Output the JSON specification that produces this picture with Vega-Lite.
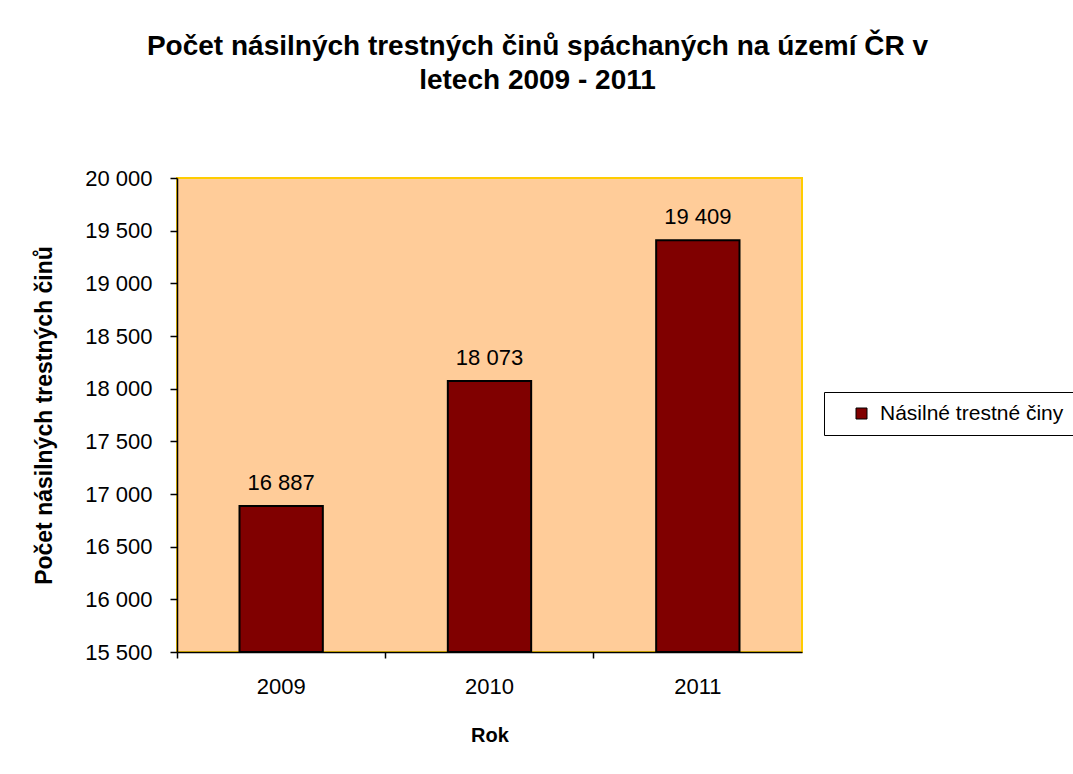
{
  "$schema": "https://vega.github.io/schema/vega-lite/v6.json",
  "autosize": "none",
  "width": 625,
  "height": 474,
  "padding": {"left": 177, "top": 178, "right": 271, "bottom": 122},
  "background": "white",
  "config": {
    "locale": {"number": {"decimal": ",", "thousands": " ", "grouping": [3], "currency": ["", " Kč"]}},
    "view": {"fill": "#FFCC99", "stroke": "#FFCC00", "strokeWidth": 2},
    "font": "Liberation Sans"
  },
  "title": {
    "text": ["Počet násilných trestných činů spáchaných na území ČR v", "letech 2009 - 2011"],
    "font": "Liberation Sans",
    "fontSize": 28,
    "fontWeight": "bold",
    "color": "black",
    "anchor": "middle",
    "frame": "group",
    "dx": 48,
    "offset": 72,
    "lineHeight": 34
  },
  "data": {
    "values": [
      {"rok": "2009", "pocet": 16887, "serie": "Násilné trestné činy"},
      {"rok": "2010", "pocet": 18073, "serie": "Násilné trestné činy"},
      {"rok": "2011", "pocet": 19409, "serie": "Násilné trestné činy"}
    ]
  },
  "encoding": {
    "x": {
      "field": "rok",
      "type": "ordinal",
      "scale": {"paddingInner": 0, "paddingOuter": 0},
      "axis": {
        "title": "Rok",
        "titleFont": "Liberation Sans",
        "titleFontSize": 20,
        "titleFontWeight": "bold",
        "titleColor": "black",
        "titlePadding": 28,
        "labelAngle": 0,
        "labelFontSize": 22,
        "labelColor": "black",
        "labelPadding": 18,
        "bandPosition": 0,
        "tickColor": "black",
        "tickSize": 6,
        "tickWidth": 1.5,
        "domainColor": "black",
        "domainWidth": 1.5
      }
    },
    "y": {
      "field": "pocet",
      "type": "quantitative",
      "scale": {"domain": [15500, 20000], "nice": false, "zero": false},
      "axis": {
        "title": "Počet násilných trestných činů",
        "titleFont": "Liberation Sans",
        "titleFontSize": 23,
        "titleFontWeight": "bold",
        "titleColor": "black",
        "titlePadding": 28,
        "values": [15500, 16000, 16500, 17000, 17500, 18000, 18500, 19000, 19500, 20000],
        "format": ",d",
        "labelFontSize": 22,
        "labelColor": "black",
        "labelPadding": 18,
        "grid": false,
        "tickColor": "black",
        "tickSize": 7,
        "tickWidth": 1.5,
        "domainColor": "black",
        "domainWidth": 1.5
      }
    }
  },
  "layer": [
    {
      "mark": {"type": "bar", "width": {"band": 0.4}, "stroke": "black", "strokeWidth": 2},
      "encoding": {
        "y2": {"datum": 15500},
        "color": {
          "field": "serie",
          "type": "nominal",
          "scale": {"range": ["#800000"]},
          "legend": {
            "title": null,
            "orient": "none",
            "legendX": 647,
            "legendY": 214,
            "strokeColor": "black",
            "fillColor": "white",
            "padding": 11,
            "symbolOffset": 16,
            "symbolType": "square",
            "symbolSize": 121,
            "symbolStrokeColor": "black",
            "symbolStrokeWidth": 1,
            "labelFontSize": 21,
            "labelColor": "black",
            "labelOffset": 8,
            "labelLimit": 300
          }
        }
      }
    },
    {
      "mark": {"type": "text", "dy": -23, "fontSize": 22, "color": "black"},
      "encoding": {
        "text": {"field": "pocet", "type": "quantitative", "format": ",d"}
      }
    }
  ]
}
